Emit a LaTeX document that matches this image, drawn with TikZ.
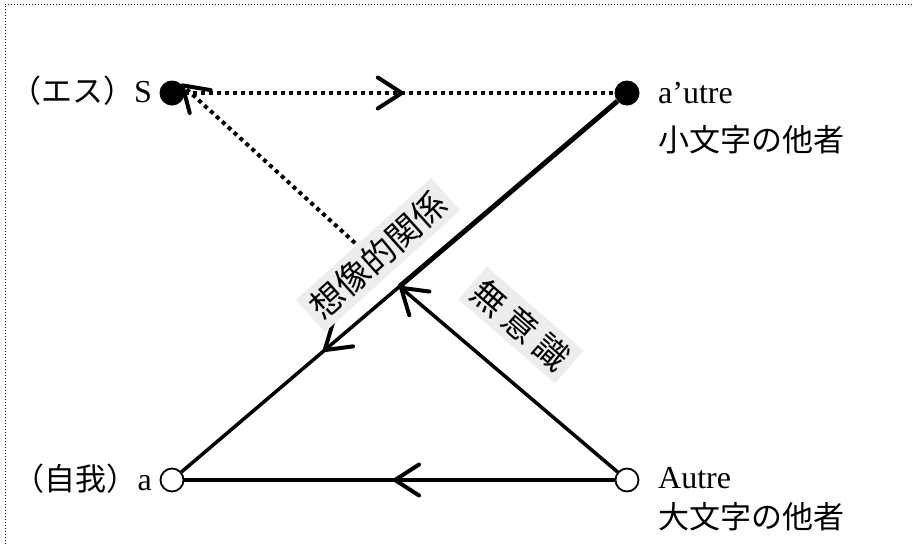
\documentclass[tikz,border=0pt]{standalone}
\usepackage{fontspec}
\setmainfont{Liberation Serif}
\newfontfamily\jp{Noto Sans CJK JP}
\newcommand{\jpt}{\jp\fontsize{31}{36}\selectfont}
\usetikzlibrary{arrows.meta,calc,decorations.markings}
\tikzset{
  full/.style={circle, fill=black, minimum size=25pt, inner sep=0pt},
  hollow/.style={circle, draw=black, fill=white, line width=1.8pt, minimum size=23pt, inner sep=0pt},
  lbl/.style={inner sep=0pt, font=\fontsize{32}{36}\selectfont},
  rel/.style={fill=gray!14, inner sep=6pt, font=\jp\fontsize{34}{38}\selectfont},
  barb/.style={-{Straight Barb[length=24pt, width=31pt, line width=4pt, round]}},
  midarrow/.style={postaction={decorate}, decoration={markings, mark=at position #1 with {\arrow{Straight Barb[length=24pt, width=31pt, line width=4pt, round]}}}},
  dotline/.style={line width=4pt, dash pattern=on 4pt off 4pt},
  solidline/.style={line width=3.5pt},
  heavyline/.style={line width=5pt},
  frame/.style={line width=1pt, dash pattern=on 1pt off 2pt}
}

\begin{document}
\begin{tikzpicture}[x=1pt, y=-1pt]
  \useasboundingbox (0,0) rectangle (913,544);
  \draw[frame] (5,544) -- (5,4) -- (913,4);
  % the four places
  \node[full] (s) at (172,93) {};
  \node[full] (ap) at (627,93) {};
  \node[hollow] (a) at (172,480) {};
  \node[hollow] (A) at (627,480) {};
  \coordinate (mid) at ($(ap)!0.5!(a)$);
  \coordinate (dotend) at (355,243);
  % connectors
  \draw[dotline, midarrow=0.51] (s) -- (ap);
  \draw[dotline, barb] (dotend) -- (s.north east);
  \draw[heavyline] (ap) -- (mid);
  \draw[solidline, midarrow=0.35] (mid) -- (a);
  \draw[solidline, barb] (A) -- (mid);
  \draw[solidline, midarrow=0.515] (A) -- (a);
  % labels
  \node[lbl, anchor=base east] (sl) at (152,102) {{\jpt （エス）}S};
  \node[lbl, anchor=base west] (apl) at (658,103) {a’utre};
  \node[lbl, anchor=base west] (apj) at (658,151) {\jpt 小文字の他者};
  \node[lbl, anchor=base east] (al) at (152,490) {{\jpt （自我）}a};
  \node[lbl, anchor=base west] (Al) at (658,488) {Autre};
  \node[lbl, anchor=base west] (Aj) at (658,528) {\jpt 大文字の他者};
  \node[rel, rotate=42] (imag) at (378,255) {想像的関係};
  \node[rel, rotate=-41] (unc) at (521,325) {無\hspace{7pt}意\hspace{7pt}識};
\end{tikzpicture}
\end{document}
